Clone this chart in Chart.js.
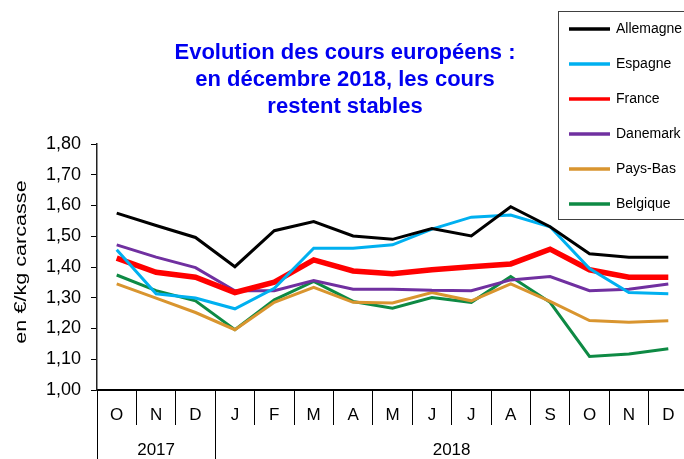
<!DOCTYPE html>
<html lang="fr">
<head>
    <meta charset="UTF-8">
    <title>Evolution des cours européens</title>
    <script src="https://cdn.jsdelivr.net/npm/chart.js@4.4.1/dist/chart.umd.min.js"></script>
    <style>
        * {
            margin: 0;
            padding: 0;
            box-sizing: border-box;
        }

        body {
            background: #ffffff;
            overflow: hidden;
        }

        .chart-box {
            position: relative;
            width: 690px;
            height: 459px;
        }
    </style>
</head>
<body>
    <div class="chart-box">
        <canvas id="coursChart"></canvas>
    </div>

    <script>
        // Data (EUR/kg carcasse)
        const months = ['O', 'N', 'D', 'J', 'F', 'M', 'A', 'M', 'J', 'J', 'A', 'S', 'O', 'N', 'D'];
        const yearLabels = ['2017', '2018'];
        const yearSpans = [3, 12];

        const allemagne = [1.575, 1.535, 1.496, 1.401, 1.518, 1.548, 1.501, 1.490, 1.525, 1.501, 1.596, 1.531, 1.443, 1.432, 1.432];
        const espagne   = [1.456, 1.313, 1.299, 1.264, 1.331, 1.461, 1.461, 1.472, 1.523, 1.562, 1.569, 1.531, 1.395, 1.317, 1.313];
        const france    = [1.429, 1.383, 1.367, 1.317, 1.351, 1.423, 1.387, 1.378, 1.391, 1.401, 1.410, 1.458, 1.391, 1.367, 1.367];
        const danemark  = [1.472, 1.432, 1.398, 1.323, 1.323, 1.356, 1.328, 1.328, 1.324, 1.323, 1.358, 1.369, 1.323, 1.328, 1.345];
        const paysBas   = [1.345, 1.299, 1.252, 1.196, 1.285, 1.334, 1.285, 1.283, 1.317, 1.290, 1.345, 1.288, 1.226, 1.220, 1.225];
        const belgique  = [1.374, 1.323, 1.290, 1.196, 1.293, 1.353, 1.288, 1.266, 1.301, 1.285, 1.369, 1.285, 1.109, 1.117, 1.134];

        const titleLines = ['Evolution des cours européens :', 'en décembre 2018, les cours', 'restent stables'];
        const yTitle = 'en €/kg carcasse';

        const FONT = '"Liberation Sans", Arial, sans-serif';

        function serie(label, data, color, width) {
            return {
                label: label,
                data: data,
                borderColor: color,
                backgroundColor: color,
                borderWidth: width,
                pointRadius: 0,
                tension: 0,
                fill: false
            };
        }

        // title, legend, y title and the year row are drawn here
        const decorPlugin = {
            id: 'decor',
            afterDraw(chart) {
                const ctx = chart.ctx;
                const area = chart.chartArea;
                const x = chart.scales.x;

                ctx.save();

                // title
                ctx.fillStyle = '#0000f0';
                ctx.font = 'bold 22px ' + FONT;
                ctx.textAlign = 'center';
                ctx.textBaseline = 'alphabetic';
                titleLines.forEach((t, i) => ctx.fillText(t, 345, 59 + i * 27));

                // y axis title (stretched along its length like the source)
                ctx.save();
                ctx.translate(22, 262);
                ctx.rotate(-Math.PI / 2);
                ctx.scale(1.35, 1);
                ctx.fillStyle = '#000';
                ctx.font = '16px ' + FONT;
                ctx.textAlign = 'center';
                ctx.textBaseline = 'middle';
                ctx.fillText(yTitle, 0, 0);
                ctx.restore();

                // year row
                const step = x.getPixelForValue(1) - x.getPixelForValue(0);
                ctx.strokeStyle = '#000';
                ctx.lineWidth = 1;
                ctx.font = '17px ' + FONT;
                ctx.fillStyle = '#000';
                ctx.textAlign = 'center';
                ctx.textBaseline = 'middle';
                let start = 0;
                yearSpans.forEach((n, i) => {
                    const left = x.getPixelForValue(start) - step / 2;
                    const right = x.getPixelForValue(start + n - 1) + step / 2;
                    ctx.beginPath();
                    ctx.moveTo(Math.round(left) + 0.5, area.bottom);
                    ctx.lineTo(Math.round(left) + 0.5, chart.height);
                    ctx.stroke();
                    ctx.fillText(yearLabels[i], (left + right) / 2, 450);
                    start += n;
                });

                // legend
                ctx.strokeStyle = '#404040';
                ctx.lineWidth = 1;
                ctx.strokeRect(558.5, 11.5, 200, 208);
                ctx.font = '14px ' + FONT;
                ctx.textAlign = 'left';
                ctx.textBaseline = 'middle';
                chart.data.datasets.forEach((ds, i) => {
                    const yy = 29 + i * 35;
                    ctx.strokeStyle = ds.borderColor;
                    ctx.lineWidth = 3.5;
                    ctx.beginPath();
                    ctx.moveTo(569, yy);
                    ctx.lineTo(610, yy);
                    ctx.stroke();
                    ctx.fillStyle = '#000';
                    ctx.fillText(ds.label, 616, yy);
                });

                ctx.restore();
            }
        };

        new Chart(document.getElementById('coursChart'), {
            type: 'line',
            data: {
                labels: months,
                datasets: [
                    serie('Allemagne', allemagne, '#000000', 3),
                    serie('Espagne', espagne, '#00b0f0', 3),
                    serie('France', france, '#ff0000', 5.5),
                    serie('Danemark', danemark, '#7030a0', 3),
                    serie('Pays-Bas', paysBas, '#d9952f', 3),
                    serie('Belgique', belgique, '#0e8a44', 3)
                ]
            },
            plugins: [decorPlugin],
            options: {
                responsive: true,
                maintainAspectRatio: false,
                animation: false,
                layout: {
                    padding: { top: 144, right: 2, left: 0, bottom: 0 }
                },
                plugins: {
                    legend: { display: false },
                    title: { display: false },
                    tooltip: { enabled: false }
                },
                scales: {
                    x: {
                        type: 'category',
                        offset: true,
                        afterFit(scale) { scale.height = 69; },
                        grid: {
                            offset: true,
                            drawOnChartArea: false,
                            tickLength: 35,
                            color: '#000',
                            lineWidth: 1
                        },
                        border: { display: true, color: '#000', width: 2 },
                        ticks: {
                            color: '#000',
                            font: { family: FONT, size: 17 },
                            padding: -20,
                            maxRotation: 0,
                            autoSkip: false
                        }
                    },
                    y: {
                        min: 1,
                        max: 1.8,
                        afterFit(scale) { scale.width = 97; },
                        grid: {
                            drawOnChartArea: false,
                            tickLength: 6,
                            color: '#000',
                            lineWidth: 1
                        },
                        border: { display: true, color: '#222', width: 1.5 },
                        ticks: {
                            stepSize: 0.1,
                            color: '#000',
                            padding: 10,
                            font: { family: FONT, size: 18 },
                            callback: (v) => v.toFixed(2).replace('.', ',')
                        }
                    }
                }
            }
        });
    </script>
</body>
</html>
